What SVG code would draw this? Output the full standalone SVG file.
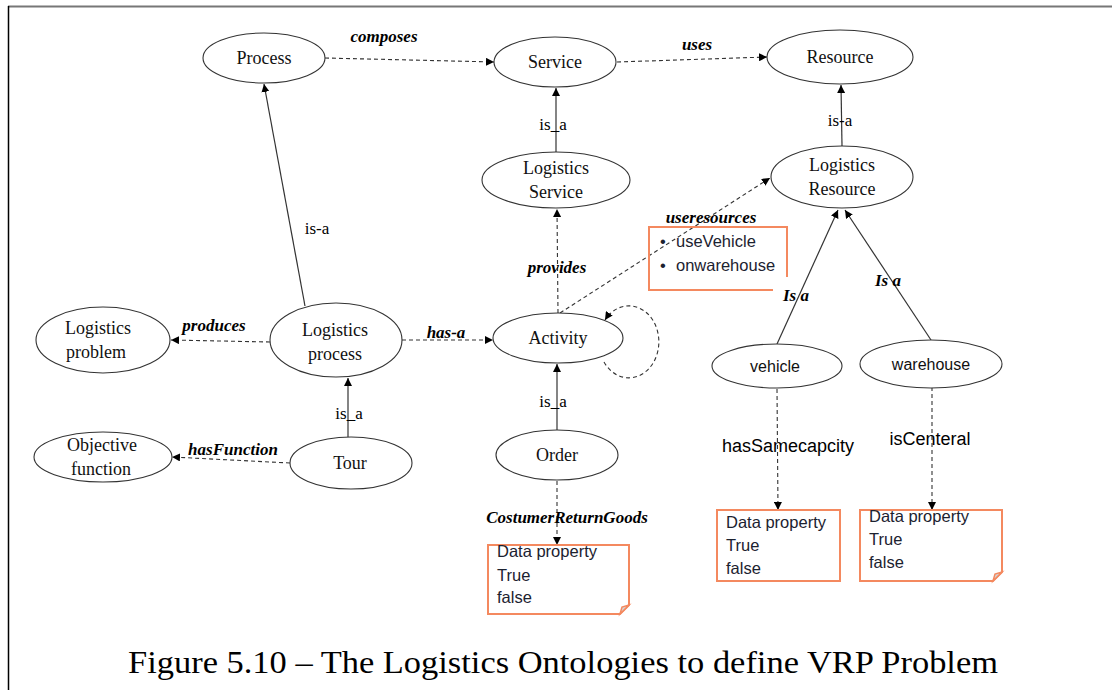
<svg xmlns="http://www.w3.org/2000/svg" width="1112" height="690" viewBox="0 0 1112 690">
<defs>
<marker id="ah" viewBox="0 0 10 10" refX="10" refY="5" markerWidth="8" markerHeight="8" markerUnits="userSpaceOnUse" orient="auto">
<path d="M0,0 L10,5 L0,10 Z" fill="#000"/>
</marker>
<style>
.n{fill:#fff;stroke:#333;stroke-width:1.1}
.t{font-family:"Liberation Serif",serif;font-size:18px;fill:#111;text-anchor:middle}
.s{font-family:"Liberation Sans",sans-serif;font-size:16px;fill:#111;text-anchor:middle}
.l{font-family:"Liberation Serif",serif;font-size:17px;font-weight:bold;font-style:italic;fill:#000;text-anchor:middle}
.r{font-family:"Liberation Serif",serif;font-size:17px;fill:#000;text-anchor:middle}
.a{font-family:"Liberation Sans",sans-serif;font-size:18px;fill:#000;text-anchor:middle}
.b{font-family:"Liberation Sans",sans-serif;font-size:16.5px;fill:#1c2230}
.box{fill:#fff;stroke:#f4895f;stroke-width:2}
.fold{fill:#d6d6d6;stroke:#f4895f;stroke-width:1.5}
.d{fill:none;stroke:#333;stroke-width:1.1;stroke-dasharray:4,3;marker-end:url(#ah)}
.o{fill:none;stroke:#333;stroke-width:1.2;marker-end:url(#ah)}
</style>
</defs>
<rect width="1112" height="690" fill="#fff"/>
<line x1="8" y1="6.5" x2="1112" y2="6.5" stroke="#777" stroke-width="2"/>
<line x1="8.5" y1="6" x2="8.5" y2="690" stroke="#000" stroke-width="1.5"/>

<g id="connectors">
<line class="d" x1="325" y1="58" x2="494" y2="62"/>
<line class="d" x1="617" y1="62" x2="767" y2="57"/>
<line class="o" x1="556" y1="152" x2="556" y2="88"/>
<line class="o" x1="842" y1="146" x2="841" y2="85"/>
<line class="d" x1="558" y1="313" x2="557" y2="209"/>
<line class="d" x1="560" y1="313" x2="770" y2="178"/>
<path class="d" d="M604,362 A30 36 0 1 0 605,320"/>
<line class="d" x1="402" y1="340" x2="493" y2="340"/>
<line class="d" x1="270" y1="342" x2="171" y2="340"/>
<line class="o" x1="305" y1="306" x2="264" y2="84"/>
<line class="o" x1="348" y1="437" x2="348" y2="378"/>
<line class="d" x1="290" y1="463" x2="172" y2="457"/>
<line class="o" x1="557" y1="430" x2="557" y2="364"/>
<line class="d" x1="557" y1="481" x2="557" y2="545"/>
<line class="o" x1="777" y1="344" x2="838" y2="210"/>
<line class="o" x1="931" y1="340" x2="845" y2="210"/>
<line class="d" x1="777" y1="389" x2="778" y2="510"/>
<line class="d" x1="932" y1="387" x2="932" y2="510"/>
</g>

<g id="edge-labels">
<text class="l" x="384" y="42">composes</text>
<text class="l" x="697" y="50">uses</text>
<text class="r" x="553" y="130">is_a</text>
<text class="r" x="840" y="126">is-a</text>
<text class="l" x="557" y="273">provides</text>
<text class="l" x="711" y="223">useresources</text>
<text class="l" x="446" y="338">has-a</text>
<text class="l" x="214" y="331">produces</text>
<text class="r" x="317" y="234">is-a</text>
<text class="r" x="349" y="419">is_a</text>
<text class="l" x="233" y="455">hasFunction</text>
<text class="r" x="553" y="407">is_a</text>
<text class="l" x="567" y="523">CostumerReturnGoods</text>
<text class="l" x="796" y="301">Is a</text>
<text class="l" x="888" y="286">Is a</text>
<text class="a" x="788" y="452">hasSamecapcity</text>
<text class="a" x="930" y="445">isCenteral</text>
</g>

<g id="n-process"><ellipse class="n" cx="264" cy="58" rx="61" ry="25"/><text class="t" x="264" y="64">Process</text></g>
<g id="n-service"><ellipse class="n" cx="555" cy="62" rx="61" ry="25"/><text class="t" x="555" y="68">Service</text></g>
<g id="n-resource"><ellipse class="n" cx="840" cy="57" rx="73" ry="27"/><text class="t" x="840" y="63">Resource</text></g>
<g id="n-logservice"><ellipse class="n" cx="556" cy="180" rx="74" ry="28"/><text class="t" x="556" y="174">Logistics</text><text class="t" x="556" y="198">Service</text></g>
<g id="n-logresource"><ellipse class="n" cx="842" cy="177" rx="71" ry="31"/><text class="t" x="842" y="171">Logistics</text><text class="t" x="842" y="195">Resource</text></g>
<g id="n-logproblem"><ellipse class="n" cx="103" cy="340" rx="67" ry="33"/><text class="t" x="98" y="334">Logistics</text><text class="t" x="96" y="358">problem</text></g>
<g id="n-logprocess"><ellipse class="n" cx="336" cy="340" rx="66" ry="37"/><text class="t" x="335" y="336">Logistics</text><text class="t" x="335" y="360">process</text></g>
<g id="n-objective"><ellipse class="n" cx="103" cy="457" rx="69" ry="25"/><text class="t" x="102" y="451">Objective</text><text class="t" x="101" y="475">function</text></g>
<g id="n-tour"><ellipse class="n" cx="351" cy="463" rx="61" ry="26"/><text class="t" x="350" y="469">Tour</text></g>
<g id="n-activity"><ellipse class="n" cx="558" cy="338" rx="65" ry="25"/><text class="t" x="558" y="344">Activity</text></g>
<g id="n-order"><ellipse class="n" cx="557" cy="455" rx="61" ry="25"/><text class="t" x="557" y="461">Order</text></g>
<g id="n-vehicle"><ellipse class="n" cx="777" cy="366" rx="65" ry="22"/><text class="s" x="775" y="372">vehicle</text></g>
<g id="n-warehouse"><ellipse class="n" cx="931" cy="364" rx="71" ry="24"/><text class="s" x="931" y="370">warehouse</text></g>

<g id="n-useresources">
<path d="M787,277 V227 H649 V290 H773" fill="none" stroke="#f4895f" stroke-width="2"/>
<text class="b" x="660" y="247">•</text><text class="b" x="676" y="247" font-size="16">useVehicle</text>
<text class="b" x="660" y="271">•</text><text class="b" x="676" y="271" font-size="16">onwarehouse</text>
</g>
<g id="n-order-data">
<path class="box" d="M488,545 H629 V605 L620,614 H488 Z"/>
<path class="fold" d="M620,614 L622,607 L629,605 Z"/>
<text class="b" x="497" y="557">Data property</text><text class="b" x="497" y="581">True</text><text class="b" x="497" y="603">false</text>
</g>
<g id="n-vehicle-data">
<rect class="box" x="717" y="510" width="123" height="71"/>
<text class="b" x="726" y="528">Data property</text><text class="b" x="726" y="551">True</text><text class="b" x="726" y="574">false</text>
</g>
<g id="n-warehouse-data">
<path class="box" d="M860,510 H1002 V572 L993,581 H860 Z"/>
<path class="fold" d="M993,581 L995,574 L1002,572 Z"/>
<text class="b" x="869" y="522">Data property</text><text class="b" x="869" y="545">True</text><text class="b" x="869" y="568">false</text>
</g>

<text x="563" y="673" font-family="Liberation Serif, serif" font-size="32" fill="#000" text-anchor="middle" textLength="870" lengthAdjust="spacingAndGlyphs">Figure 5.10 – The Logistics Ontologies to define VRP Problem</text>
</svg>
